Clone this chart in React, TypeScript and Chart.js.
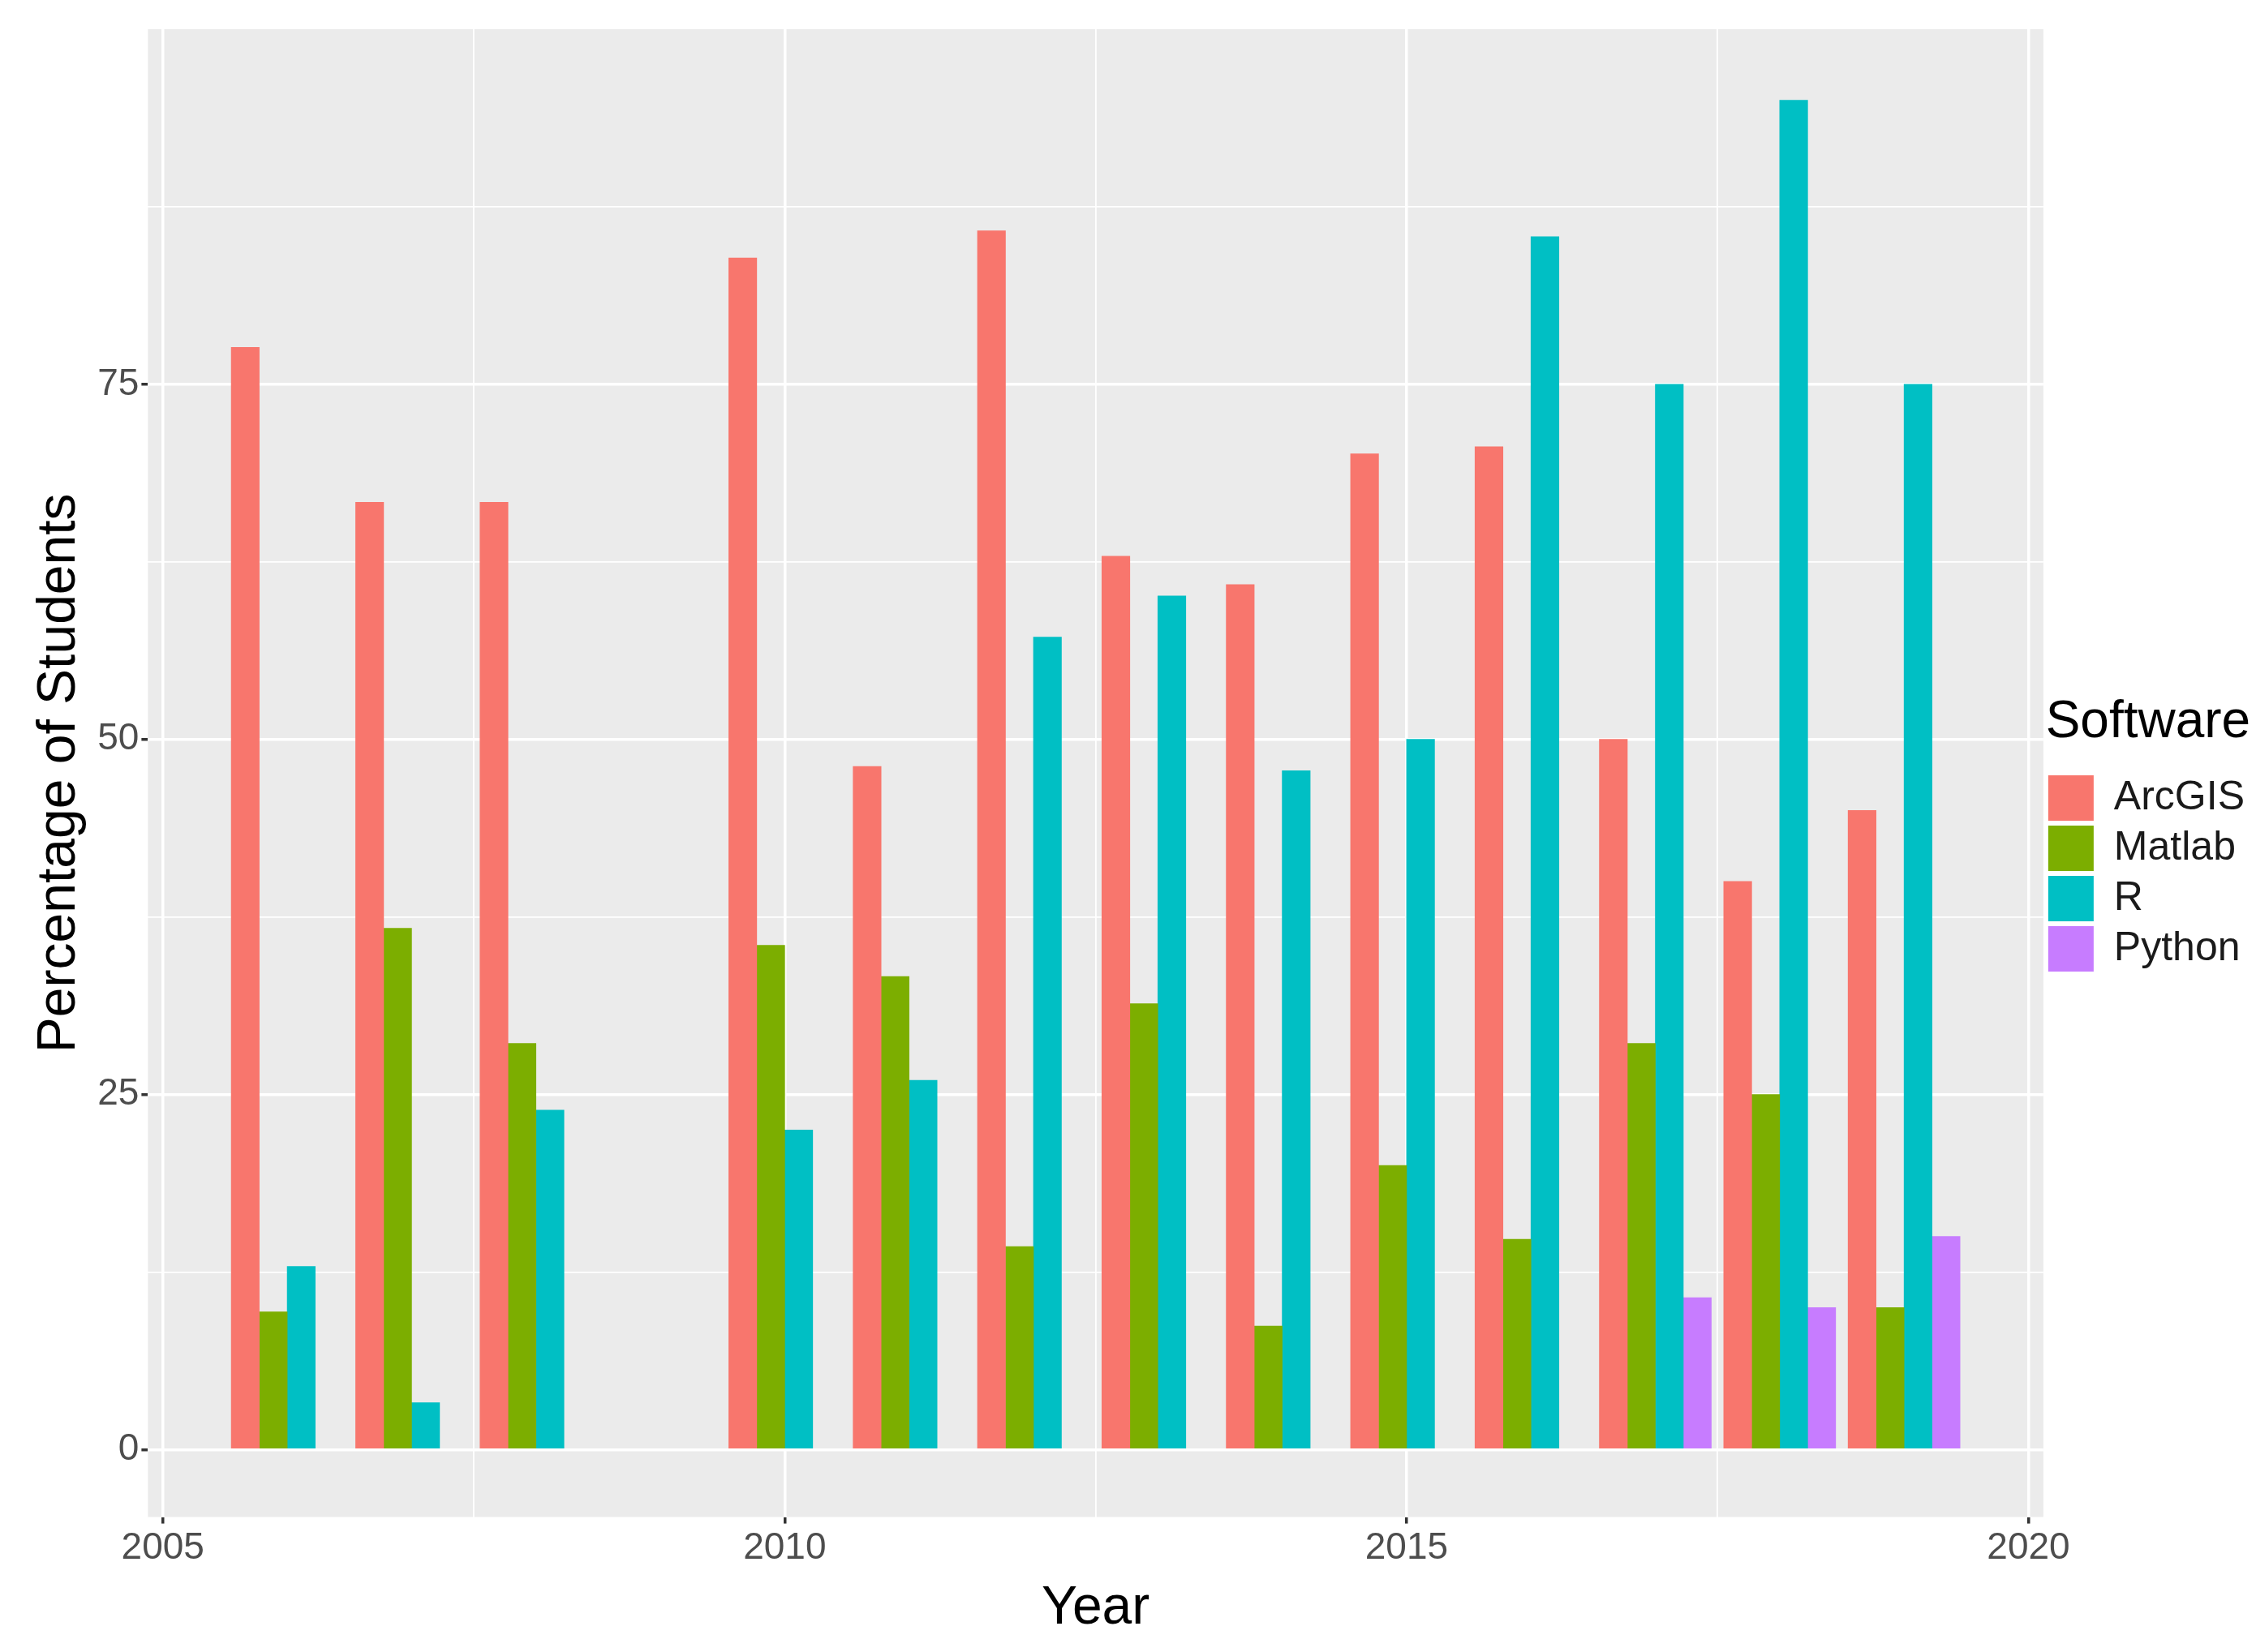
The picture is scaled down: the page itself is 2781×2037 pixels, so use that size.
import React, { useEffect, useRef } from "react";
import { Chart, registerables } from "chart.js";
Chart.register(...registerables);

const years = [2006, 2007, 2008, 2010, 2011, 2012, 2013, 2014, 2015, 2016, 2017, 2018, 2019];
const arcgis = [77.6, 66.7, 66.7, 83.9, 48.1, 85.8, 62.9, 60.9, 70.1, 70.6, 50, 40, 45];
const matlab = [9.7, 36.7, 28.6, 35.5, 33.3, 14.3, 31.4, 8.7, 20.0, 14.8, 28.6, 25, 10];
const rVals = [12.9, 3.3, 23.9, 22.5, 26.0, 57.2, 60.1, 47.8, 50, 85.4, 75, 95, 75];
const pyYears = [2017, 2018, 2019];
const python = [10.7, 10, 15];
const seriesNames = ["ArcGIS", "Matlab", "R", "Python"];
const colors = ["#F8766D", "#7CAE00", "#00BFC4", "#C77CFF"];
const yMajor = [0, 25, 50, 75];
const xMajor = [2005, 2010, 2015, 2020];

const SLOT = 0.225;
const offsets = [-1.5 * SLOT, -0.5 * SLOT, 0.5 * SLOT, 1.5 * SLOT];

export default function App() {
  const ref = useRef<HTMLCanvasElement>(null);
  useEffect(() => {
    const mk = (xs: number[], vs: number[], i: number) => ({
      label: seriesNames[i],
      data: xs.map((x, k) => ({ x: x + offsets[i], y: vs[k] })),
      backgroundColor: colors[i],
      grouped: false,
      categoryPercentage: 1,
      barPercentage: 1,
    });
    const bg = {
      id: "bg",
      beforeDraw(c: any) {
        const { ctx, chartArea: a } = c;
        ctx.save();
        ctx.fillStyle = "#EBEBEB";
        ctx.fillRect(a.left, a.top, a.right - a.left, a.bottom - a.top);
        ctx.restore();
      },
    };
    const font = "Arial, 'Liberation Sans', sans-serif";
    const chart = new Chart(ref.current!, {
      type: "bar",
      data: {
        datasets: [
          mk(years, arcgis, 0),
          mk(years, matlab, 1),
          mk(years, rVals, 2),
          mk(pyYears, python, 3),
        ] as any,
      },
      options: {
        animation: false,
        responsive: false,
        devicePixelRatio: 1,
        layout: { padding: { top: 36, right: 4, left: 30, bottom: 10 } },
        plugins: {
          tooltip: { enabled: false },
          legend: {
            position: "right",
            align: "center",
            title: { display: true, text: "Software", color: "#000", font: { size: 64, family: font }, padding: { top: 0, bottom: 14 } },
            labels: { color: "#1a1a1a", font: { size: 50, family: font }, boxWidth: 56, boxHeight: 56, padding: 6 },
          },
        },
        scales: {
          x: {
            type: "linear",
            offset: false,
            min: 2004.88,
            max: 2020.12,
            afterBuildTicks: (s: any) => {
              s.ticks = [2005, 2007.5, 2010, 2012.5, 2015, 2017.5, 2020].map((v) => ({ value: v }));
            },
            ticks: {
              autoSkip: false,
              maxRotation: 0,
              color: "#4D4D4D",
              font: { size: 46, family: font },
              callback: (v: any) => (xMajor.includes(v) ? String(v) : ""),
            },
            grid: {
              offset: false,
              color: "#FFFFFF",
              lineWidth: (c: any) => (xMajor.includes(c.tick?.value) ? 3.5 : 1.8),
              tickLength: 8,
              tickColor: (c: any) => (xMajor.includes(c.tick?.value) ? "#333333" : "rgba(0,0,0,0)"),
            },
            border: { display: false },
            title: { display: true, text: "Year", color: "#000", font: { size: 66, family: font }, padding: { top: 4 } },
          },
          y: {
            min: -4.75,
            max: 100,
            afterBuildTicks: (s: any) => {
              s.ticks = [0, 12.5, 25, 37.5, 50, 62.5, 75, 87.5].map((v) => ({ value: v }));
            },
            ticks: {
              autoSkip: false,
              color: "#4D4D4D",
              font: { size: 46, family: font },
              callback: (v: any) => (yMajor.includes(v) ? String(v) : ""),
            },
            grid: {
              color: "#FFFFFF",
              lineWidth: (c: any) => (yMajor.includes(c.tick?.value) ? 3.5 : 1.8),
              tickLength: 8,
              tickColor: (c: any) => (yMajor.includes(c.tick?.value) ? "#333333" : "rgba(0,0,0,0)"),
            },
            border: { display: false },
            title: { display: true, text: "Percentage of Students", color: "#000", font: { size: 66, family: font } },
          },
        },
      },
      plugins: [bg],
    });
    return () => chart.destroy();
  }, []);
  return (
    <div style={{ position: "fixed", left: 0, top: 0, width: 2781, height: 2037, background: "#fff" }}>
      <canvas ref={ref} width={2781} height={2037} style={{ width: 2781, height: 2037 }} />
    </div>
  );
}
